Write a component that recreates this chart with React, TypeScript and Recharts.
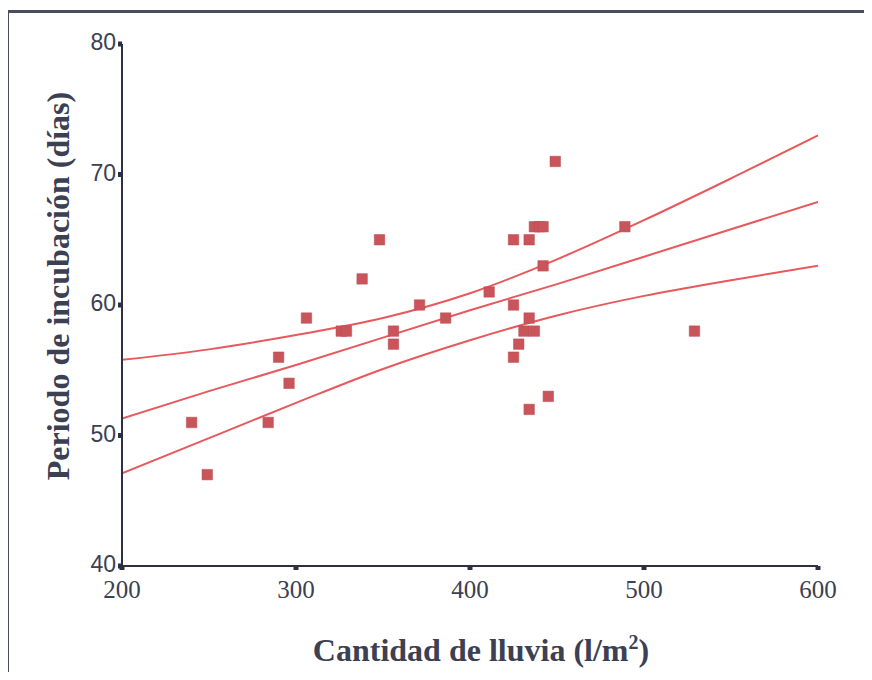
import React from 'react'
import { ComposedChart, Scatter, Line, XAxis, YAxis, ZAxis } from 'recharts'

// observed points
const rainfall = [240, 249, 284, 290, 296, 306, 326, 329, 338, 348, 356, 356, 371, 386, 411, 425, 425, 425, 428, 431, 434, 434, 434, 437, 437, 440, 442, 442, 445, 449, 489, 529]
const incubation = [51, 47, 51, 56, 54, 59, 58, 58, 62, 65, 58, 57, 60, 59, 61, 65, 60, 56, 57, 58, 65, 59, 52, 58, 66, 66, 66, 63, 53, 71, 66, 58]

// regression line and confidence band, read at these x values
const bandX = [200, 250, 300, 350, 400, 450, 500, 550, 600]
const fitY = [51.3, 53.4, 55.4, 57.5, 59.6, 61.6, 63.7, 65.8, 67.9]
const upperY = [55.8, 56.6, 57.7, 59.0, 60.9, 63.5, 66.5, 69.7, 73.0]
const lowerY = [47.1, 49.8, 52.5, 55.1, 57.3, 59.2, 60.7, 61.9, 63.0]

const xTicks = [200, 300, 400, 500, 600]
const yTicks = [40, 50, 60, 70, 80]

const points = rainfall.map((x, i) => ({ x, y: incubation[i] }))
const fit = bandX.map((x, i) => ({ x, y: fitY[i] }))
const upper = bandX.map((x, i) => ({ x, y: upperY[i] }))
const lower = bandX.map((x, i) => ({ x, y: lowerY[i] }))

const axisColor = '#2c3040'
const textColor = '#3b4052'
const lineColor = '#e8585c'

const App = () => {
  return (
    <div style={{ position: 'relative', width: 872, height: 680, margin: -8, background: '#fff', overflow: 'hidden' }}>
      {/* frame */}
      <div style={{ position: 'absolute', left: 6, top: 10, width: 900, height: 700, borderTop: '3px solid #4a4d5a', borderLeft: '3px solid #4a4d5a' }} />
      <div style={{ position: 'absolute', left: 0, top: 0 }}>
        <ComposedChart width={872} height={680} margin={{ top: 44, right: 54, left: 62, bottom: 74 }}>
          <XAxis
            type="number"
            dataKey="x"
            domain={[200, 600]}
            ticks={xTicks}
            allowDataOverflow
            stroke={axisColor}
            strokeWidth={2}
            tickSize={4}
            tickLine={{ stroke: axisColor, strokeWidth: 5 }}
            tick={{ fill: textColor, fontSize: 25, fontFamily: 'Liberation Serif, serif', dy: 8 }}
            height={40}
          />
          <YAxis
            type="number"
            dataKey="y"
            domain={[40, 80]}
            ticks={yTicks}
            allowDataOverflow
            stroke={axisColor}
            strokeWidth={2}
            tickSize={4}
            tickLine={{ stroke: axisColor, strokeWidth: 5 }}
            tick={{ fill: textColor, fontSize: 23, fontFamily: 'Liberation Sans Narrow, Liberation Sans, sans-serif', dy: -2 }}
            width={60}
          />
          <ZAxis range={[110, 110]} />
          <Line data={upper} dataKey="y" type="monotone" stroke={lineColor} strokeWidth={2} dot={false} isAnimationActive={false} />
          <Line data={fit} dataKey="y" type="linear" stroke={lineColor} strokeWidth={2} dot={false} isAnimationActive={false} />
          <Line data={lower} dataKey="y" type="monotone" stroke={lineColor} strokeWidth={2} dot={false} isAnimationActive={false} />
          <Scatter data={points} dataKey="y" shape="square" fill="#c9555b" stroke="#b84a50" strokeWidth={0.5} isAnimationActive={false} />
        </ComposedChart>
      </div>
      {/* axis titles */}
      <div style={{ position: 'absolute', left: 58, top: 286, transform: 'translate(-50%, -50%) rotate(-90deg)', whiteSpace: 'nowrap', fontFamily: 'Liberation Serif, serif', fontWeight: 'bold', fontSize: 32, color: textColor }}>
        Periodo de incubación (días)
      </div>
      <div style={{ position: 'absolute', left: 481, top: 650, transform: 'translate(-50%, -50%)', whiteSpace: 'nowrap', fontFamily: 'Liberation Serif, serif', fontWeight: 'bold', fontSize: 32, color: textColor }}>
        Cantidad de lluvia (l/m<sup style={{ fontSize: 20 }}>2</sup>)
      </div>
    </div>
  )
}

export default App
